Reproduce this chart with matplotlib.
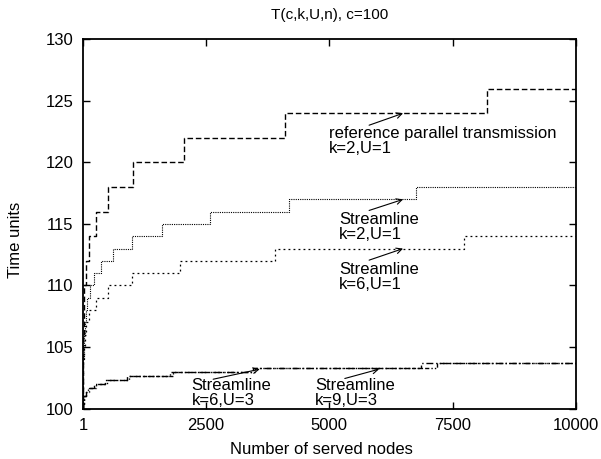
from matplotlib import pyplot as plt

plt.rcParams["font.family"] = ["Liberation Sans", "DejaVu Sans"]

# reference parallel transmission, k=2, U=1
ref_x = [1, 2, 4, 8, 16, 32, 64, 128, 256, 512, 1024, 2048, 4096, 8192, 10000]
ref_y = [100, 102, 104, 106, 108, 110, 112, 114, 116, 118, 120, 122, 124, 126, 126]

# Streamline k=2, U=1
s21_x = [1, 2, 3, 5, 8, 13, 21, 34, 55, 89, 144, 233, 377, 610, 987, 1597,
         2584, 4181, 6765, 10000]
s21_y = [100, 101, 102, 103, 104, 105, 106, 107, 108, 109, 110, 111, 112,
         113, 114, 115, 116, 117, 118, 118]

# Streamline k=6, U=1
s61_x = [1, 2, 3, 5, 9, 17, 33, 66, 132, 258, 510, 988, 1965, 3905, 7725, 10000]
s61_y = [100, 101, 102, 103, 104, 105, 106, 107, 108, 109, 110, 111, 112,
         113, 114, 114]

# Streamline k=6, U=3
s63_x = [1, 7, 14, 28, 56, 112, 224, 446, 886, 1765, 3454, 6870, 10000]
s63_y = [100, 100.33, 100.67, 101, 101.33, 101.67, 102, 102.33, 102.67,
         103, 103.33, 103.67, 103.67]

# Streamline k=9, U=3
s93_x = [1, 8, 16, 32, 64, 128, 256, 480, 930, 1820, 3500, 7175, 10000]
s93_y = [100, 100.33, 100.67, 101, 101.33, 101.67, 102, 102.33, 102.67,
         103, 103.33, 103.67, 103.67]


def graficar():
    fig = plt.figure(figsize=(6.01, 4.59), dpi=100)
    ax = fig.add_axes([0.138, 0.110, 0.820, 0.804])

    ax.step(ref_x, ref_y, where="post", color="black", linewidth=1.0,
            dashes=(4, 2))
    ax.step(s21_x, s21_y, where="post", color="black", linewidth=0.8,
            dashes=(1, 1))
    ax.step(s61_x, s61_y, where="post", color="black", linewidth=0.9,
            dashes=(1.5, 2.5))
    ax.step(s63_x, s63_y, where="post", color="black", linewidth=1.0,
            dashes=(5, 2, 1, 2))
    ax.step(s93_x, s93_y, where="post", color="black", linewidth=1.0,
            dashes=(3, 1.5, 1, 1.5, 1, 1.5))

    ax.set_xlim(1, 10000)
    ax.set_ylim(100, 130)
    ax.set_xticks([1, 2500, 5000, 7500, 10000])
    ax.set_yticks([100, 105, 110, 115, 120, 125, 130])
    ax.tick_params(direction="in", length=5, width=1, top=True, right=True,
                   labelsize=12, pad=7)
    for s in ax.spines.values():
        s.set_linewidth(1.3)

    ax.set_title("T(c,k,U,n), c=100", fontsize=11, pad=15)
    ax.set_xlabel("Number of served nodes", fontsize=12)
    ax.xaxis.set_label_coords(0.483, -0.092)
    ax.set_ylabel("Time units", fontsize=12)
    ax.yaxis.set_label_coords(-0.122, 0.456)

    flecha = dict(arrowstyle="->", color="black", linewidth=0.8,
                  shrinkA=0, shrinkB=0)
    ax.annotate("", xy=(6496, 124), xytext=(5807, 123.03), arrowprops=flecha)
    ax.text(4990, 123.0, "reference parallel transmission\nk=2,U=1",
            fontsize=12, va="top", ha="left", linespacing=1.0)

    ax.annotate("", xy=(6496, 117), xytext=(5807, 116.1), arrowprops=flecha)
    ax.text(5199, 116.0, "Streamline\nk=2,U=1",
            fontsize=12, va="top", ha="left", linespacing=1.0)

    ax.annotate("", xy=(6496, 113), xytext=(5807, 112.06), arrowprops=flecha)
    ax.text(5199, 111.95, "Streamline\nk=6,U=1",
            fontsize=12, va="top", ha="left", linespacing=1.0)

    ax.annotate("", xy=(3590, 103.2), xytext=(2643, 102.38), arrowprops=flecha)
    ax.text(2205, 102.45, "Streamline\nk=6,U=3",
            fontsize=12, va="top", ha="left", linespacing=1.0)

    ax.annotate("", xy=(6010, 103.2), xytext=(5314, 102.44), arrowprops=flecha)
    ax.text(4705, 102.45, "Streamline\nk=9,U=3",
            fontsize=12, va="top", ha="left", linespacing=1.0)

    fig.savefig("out.png", dpi=100)


def main():
    graficar()


if __name__ == "__main__":
    main()
